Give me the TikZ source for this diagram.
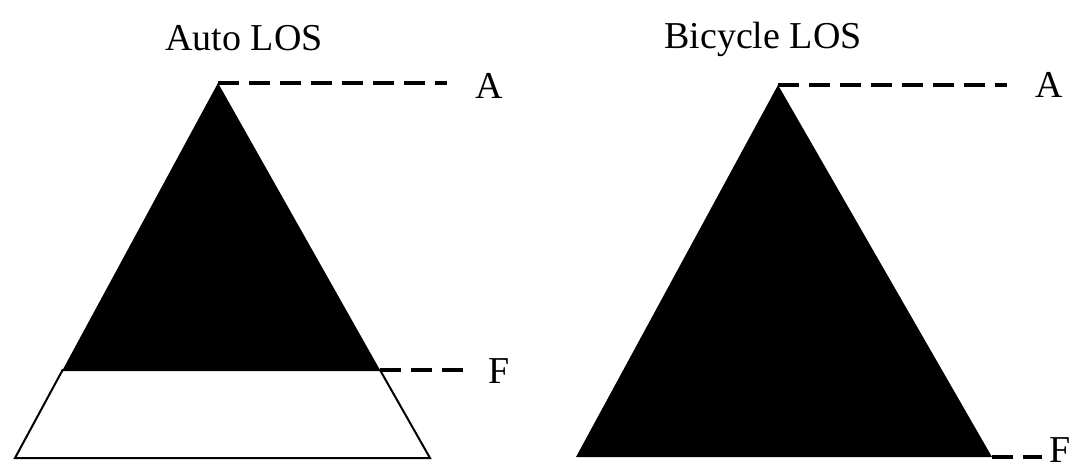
\documentclass[tikz,border=0pt]{standalone}
\usepackage{fontspec}
\setmainfont{Liberation Serif}
\begin{document}
\begin{tikzpicture}[x=1pt,y=-1pt,
  lbl/.style={font=\fontsize{38}{40}\selectfont, inner sep=0pt, anchor=base west},
  ttl/.style={font=\fontsize{38}{40}\selectfont, inner sep=0pt, anchor=base},
  leader/.style={line width=4.5pt, dash pattern=on 21pt off 10pt},
  outline/.style={line width=2pt, line join=miter}
]
\useasboundingbox[fill=white] (0,0) rectangle (1075,469);

% titles
\node[ttl] (tAuto) at (244,50) {Auto LOS};
\node[ttl] (tBike) at (763,48) {Bicycle LOS};

% left triangle (Auto)
\coordinate (LA) at (218,83);
\coordinate (LFl) at (62.6,370);
\coordinate (LFr) at (380,370);
\coordinate (LBl) at (15,458);
\coordinate (LBr) at (430,458);
\fill[black] (LA) -- (LFl) -- (LFr) -- cycle;
\draw[outline, fill=white] (LFl) -- (LBl) -- (LBr) -- (LFr) -- cycle;
\node[lbl] (LAlab) at (475,98) {A};
\node[lbl] (LFlab) at (488,383) {F};
\coordinate (LAend) at (447,83);
\coordinate (LFend) at (470,370);
\draw[leader] (LA) -- (LAend);
\draw[leader] (LFr) -- (LFend);

% right triangle (Bicycle)
\coordinate (RA) at (778,85);
\coordinate (RBl) at (576,457);
\coordinate (RBr) at (992,457);
\fill[black] (RA) -- (RBl) -- (RBr) -- cycle;
\node[lbl] (RAlab) at (1035,97) {A};
\node[lbl] (RFlab) at (1049,462) {F};
\coordinate (RAend) at (1007,85);
\coordinate (RFend) at (1042,457);
\draw[leader] (RA) -- (RAend);
\draw[leader] (RBr) -- (RFend);
\end{tikzpicture}
\end{document}
